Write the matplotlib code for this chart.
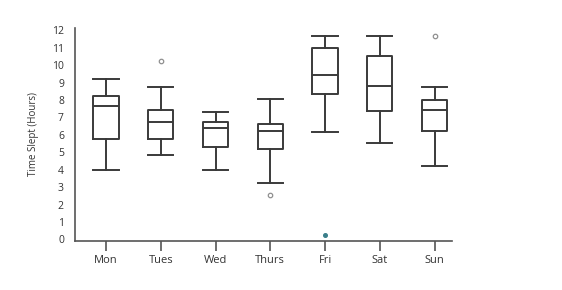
import matplotlib
matplotlib.use("Agg")
import matplotlib.pyplot as plt

days = ["Mon", "Tues", "Wed", "Thurs", "Fri", "Sat", "Sun"]
whislo = [4.0, 4.82, 4.0, 3.25, 6.16, 5.54, 4.21]
q1 = [5.77, 5.77, 5.28, 5.2, 8.37, 7.34, 6.20]
med = [7.65, 6.75, 6.37, 6.21, 9.44, 8.79, 7.40]
q3 = [8.25, 7.40, 6.75, 6.60, 10.99, 10.53, 7.97]
whishi = [9.19, 8.73, 7.29, 8.06, 11.66, 11.66, 8.73]
outliers = [[], [10.24], [], [2.53], [], [], [11.67]]
fri_dot = [0.24]
yticks = list(range(0, 13))

plt.rcParams['font.family'] = ['Open Sans', 'DejaVu Sans']

fig = plt.figure(figsize=(5.62, 2.90), dpi=100)
ax = fig.add_axes([0.1335, 0.170, 0.6705, 0.733])

stats = []
for i, d in enumerate(days):
    stats.append(dict(label=d, whislo=whislo[i], q1=q1[i], med=med[i],
                      q3=q3[i], whishi=whishi[i], fliers=outliers[i]))

c = "#3a3a3a"
pos = list(range(1, len(days) + 1))
ax.bxp(stats, positions=pos, widths=0.46, showfliers=True,
       boxprops=dict(color=c, linewidth=1.4),
       medianprops=dict(color=c, linewidth=1.4),
       whiskerprops=dict(color=c, linewidth=1.4),
       capprops=dict(color=c, linewidth=1.4),
       capwidths=0.46,
       flierprops=dict(marker='o', markersize=3.2, markerfacecolor='none',
                       markeredgecolor='#909090', markeredgewidth=0.9))

ax.plot([5] * len(fri_dot), fri_dot, 'o', markersize=2.6, color='#3a7f8a',
        clip_on=False, zorder=5)

ax.set_xlim(0.434, 7.316)
ax.set_ylim(-0.07, 12.12)
ax.set_yticks(yticks)
ax.set_yticklabels([str(t) for t in yticks])
ax.set_xticks(pos)
ax.set_xticklabels(days)

for s in ['top', 'right']:
    ax.spines[s].set_visible(False)
for s in ['left', 'bottom']:
    ax.spines[s].set_color('#555555')
    ax.spines[s].set_linewidth(1.2)

ax.tick_params(axis='y', length=0, pad=8, labelsize=7.5, labelcolor='#333333')
ax.tick_params(axis='x', length=7, width=1.2, color='#555555', pad=3,
               labelsize=8, labelcolor='#333333')
ax.set_ylabel("Time Slept (Hours)", fontsize=7, color='#333333', labelpad=9)

fig.savefig("out.png", dpi=100)
